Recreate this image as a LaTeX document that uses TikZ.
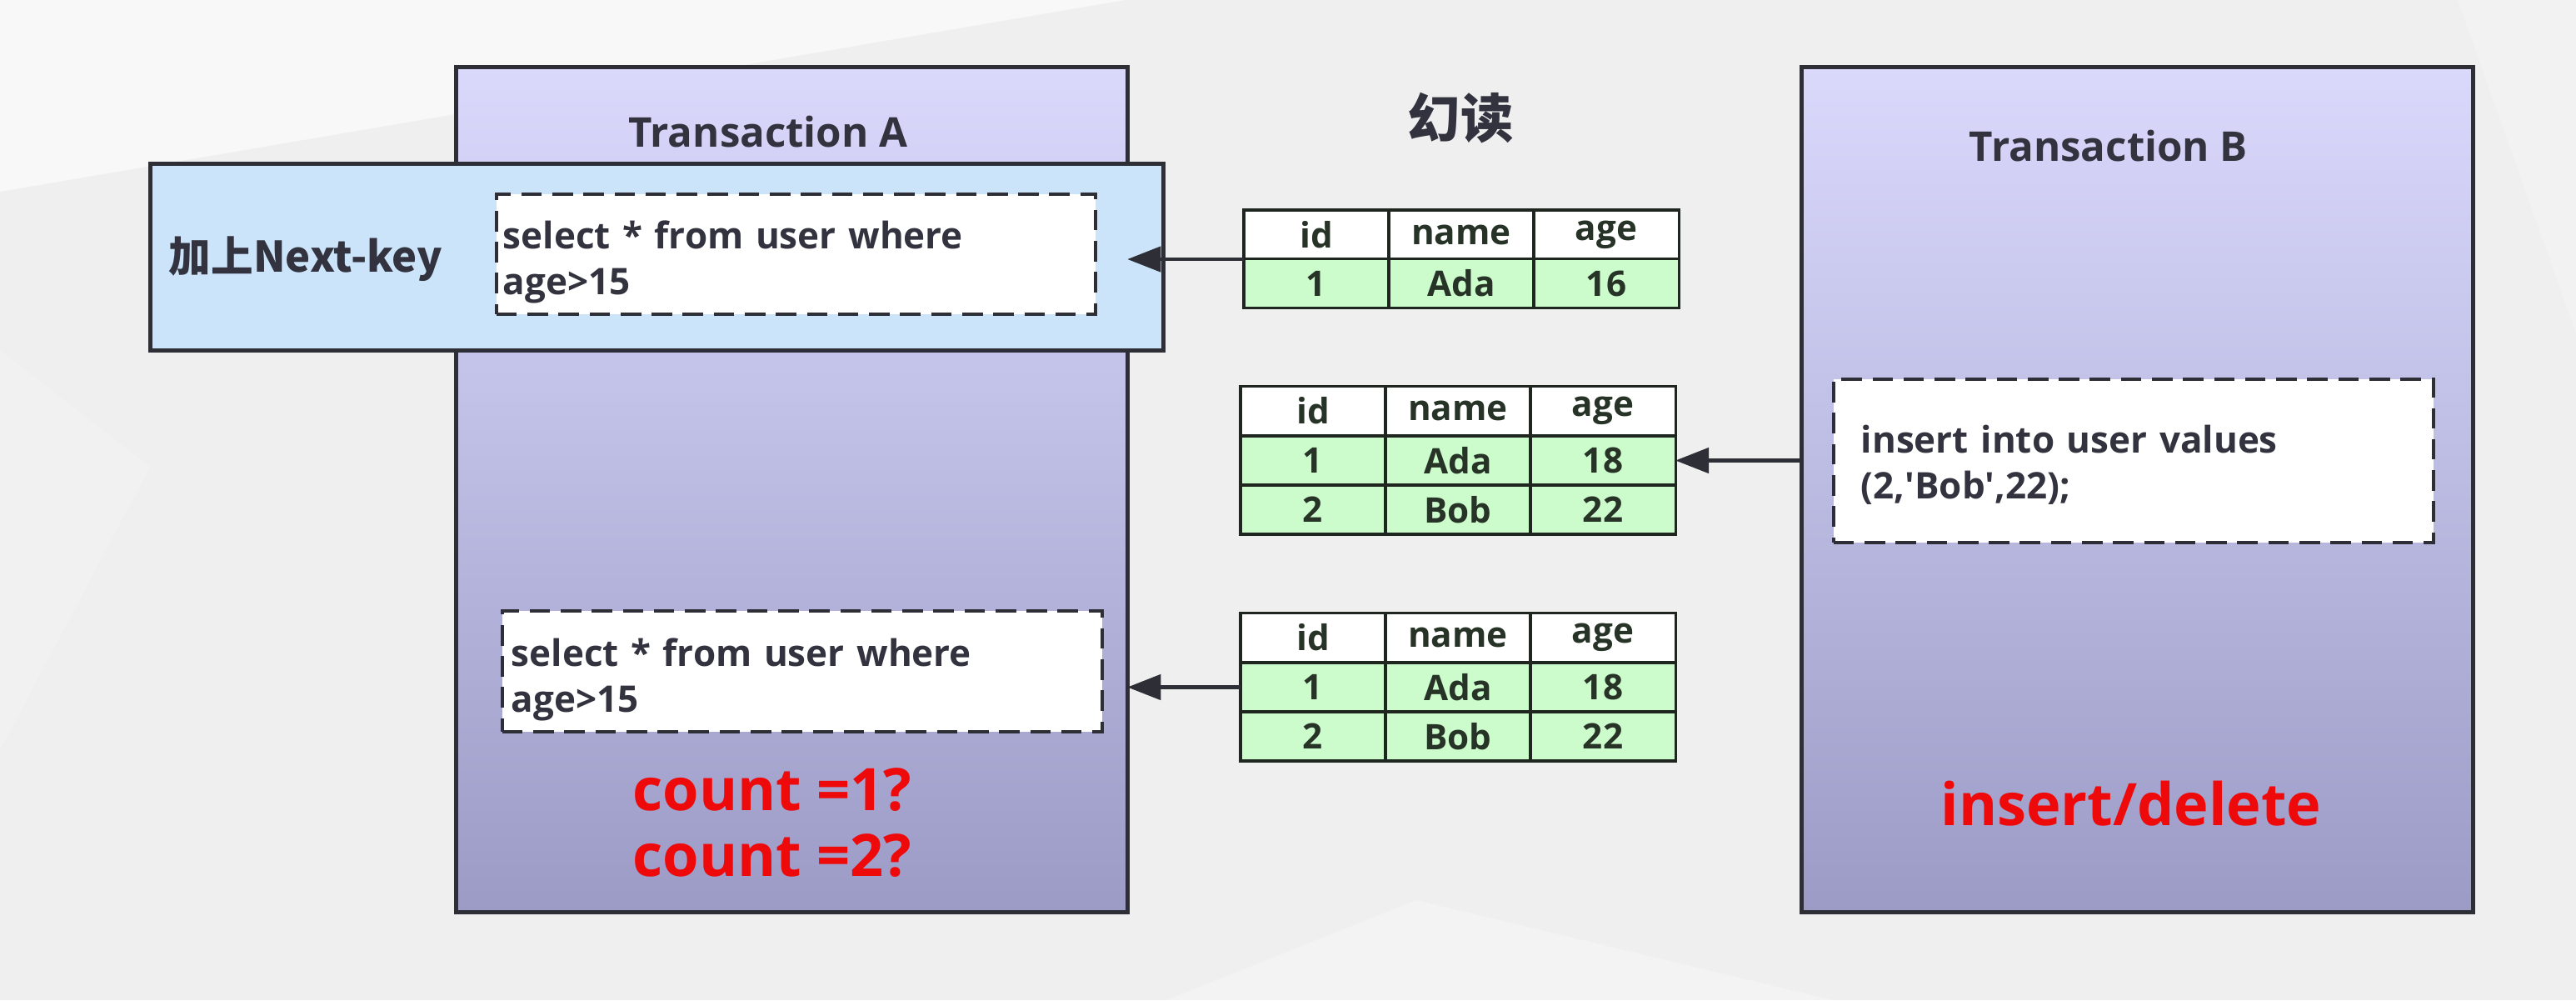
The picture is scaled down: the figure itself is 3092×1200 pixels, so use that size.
\documentclass[tikz,border=0pt]{standalone}
\usepackage{fontspec}
\setmainfont{Open Sans}
\newfontfamily\cjk{Noto Sans CJK SC}
\usetikzlibrary{arrows.meta}
\definecolor{bg}{HTML}{EFEFEF}
\definecolor{bglight}{HTML}{F8F8F8}
\definecolor{txtop}{HTML}{DAD9FC}
\definecolor{txbot}{HTML}{9C9BC6}
\definecolor{nkblue}{HTML}{CBE4FA}
\definecolor{edge}{HTML}{2E2F36}
\definecolor{txt}{HTML}{33333F}
\definecolor{tgreen}{HTML}{CCFBCC}
\definecolor{tedge}{HTML}{1F261F}
\definecolor{ttxt}{HTML}{263326}
\definecolor{alert}{HTML}{EE0A0A}
\newcommand\tabrow[7]{%
  \node[cell,#4] (#1a) at (#2+87,#3) {#5};
  \node[cell,#4] (#1b) at (#2+261,#3) {#6};
  \node[cell,#4] (#1c) at (#2+435,#3) {#7};}
\newcommand\topgap[1]{\rule{0pt}{#1}}
\begin{document}
\begin{tikzpicture}[x=0.01cm,y=-0.01cm,
  every node/.style={text=txt},
  txbox/.style={draw=edge, line width=1.4pt, top color=txtop, bottom color=txbot,
    minimum width=8.05cm, minimum height=10.13cm, inner sep=0, outer sep=0},
  qbox/.style={draw=edge, line width=1.2pt, dash pattern=on 7pt off 3.6pt, fill=white,
    inner ysep=0, outer sep=0, align=left,
    font=\bfseries\fontsize{12.5}{15.6}\selectfont},
  cell/.style={draw=tedge, line width=0.9pt, minimum width=1.74cm, minimum height=0.59cm,
    inner sep=0, outer sep=0, font=\bfseries\fontsize{12}{14}\selectfont, text=ttxt},
  hdr/.style={fill=white},
  dat/.style={fill=tgreen},
  title/.style={font=\bfseries\fontsize{14}{16}\selectfont},
  redtxt/.style={text=alert, font=\bfseries\fontsize{20}{22.7}\selectfont, align=center},
  arr/.style={draw=edge, line width=1.3pt, -{Triangle[length=0.4cm,width=0.3cm]}}]
% background
\fill[bg] (0,0) rectangle (3092,1200);
\fill[bglight] (0,0) -- (1350,0) -- (0,230) -- cycle;
\fill[bglight,opacity=0.5] (1400,1200) -- (1700,1080) -- (2200,1200) -- cycle;
\fill[bglight,opacity=0.4] (2950,0) -- (3092,0) -- (3092,400) -- cycle;
\fill[bglight,opacity=0.3] (0,420) -- (180,560) -- (0,900) -- cycle;
\useasboundingbox (0,0) rectangle (3092,1200);
% transaction boxes
\node[txbox] (TA) at (950.5,587.5) {};
\node[txbox] (TB) at (2565.5,587.5) {};
\node[title] (TAlabel) at (922,158) {Transaction A};
\node[title] (TBlabel) at (2531,175) {Transaction B};
% next-key box
\node[draw=edge, line width=1.4pt, fill=nkblue, minimum width=12.15cm, minimum height=2.23cm,
  inner sep=0, outer sep=0] (NK) at (788.5,308.5) {};
\node[font=\cjk\bfseries\fontsize{14.4}{18}\selectfont] (NKlabel) at (367,311) {加上Next-key};
% query boxes
\node[qbox, minimum width=7.19cm, minimum height=1.44cm, text width=7.03cm, inner xsep=0.08cm]
  (Q1) at (955.5,305) {\topgap{15pt}select * from user where\\age>15};
\node[qbox, minimum width=7.20cm, minimum height=1.45cm, text width=6.98cm, inner xsep=0.11cm]
  (Q2) at (963,805.5) {\topgap{15pt}select * from user where\\age>15};
\node[qbox, minimum width=7.20cm, minimum height=1.96cm, text width=6.54cm, inner xsep=0.33cm]
  (INS) at (2561,553) {\topgap{12pt}insert into user values\\(2,\textquotesingle Bob\textquotesingle,22);};
% title
\node[font=\cjk\bfseries\fontsize{18}{20}\selectfont] (TT) at (1753,142) {幻读};
% red notes
\node[redtxt] (CNT) at (927,987) {count =1?\\count =2?};
\node[redtxt] (ID) at (2558,964) {insert/delete};
% tables
\tabrow{t1h}{1493}{281.5}{hdr}{id}{name}{age}
\tabrow{t1r}{1493}{340}{dat}{1}{Ada}{16}
\tabrow{t2h}{1489}{493}{hdr}{id}{name}{age}
\tabrow{t2r}{1489}{552.5}{dat}{1}{Ada}{18}
\tabrow{t2s}{1489}{611.5}{dat}{2}{Bob}{22}
\tabrow{t3h}{1489}{765}{hdr}{id}{name}{age}
\tabrow{t3r}{1489}{824.5}{dat}{1}{Ada}{18}
\tabrow{t3s}{1489}{883.5}{dat}{2}{Bob}{22}
% arrows
\draw[arr] (t1ha.south west) -- (t1ha.south west -| TA.east);
\draw[arr] (t2rc.east -| TB.west) -- (t2rc.east);
\draw[arr] (t3ra.west) -- (t3ra.west -| TA.east);
\end{tikzpicture}
\end{document}
